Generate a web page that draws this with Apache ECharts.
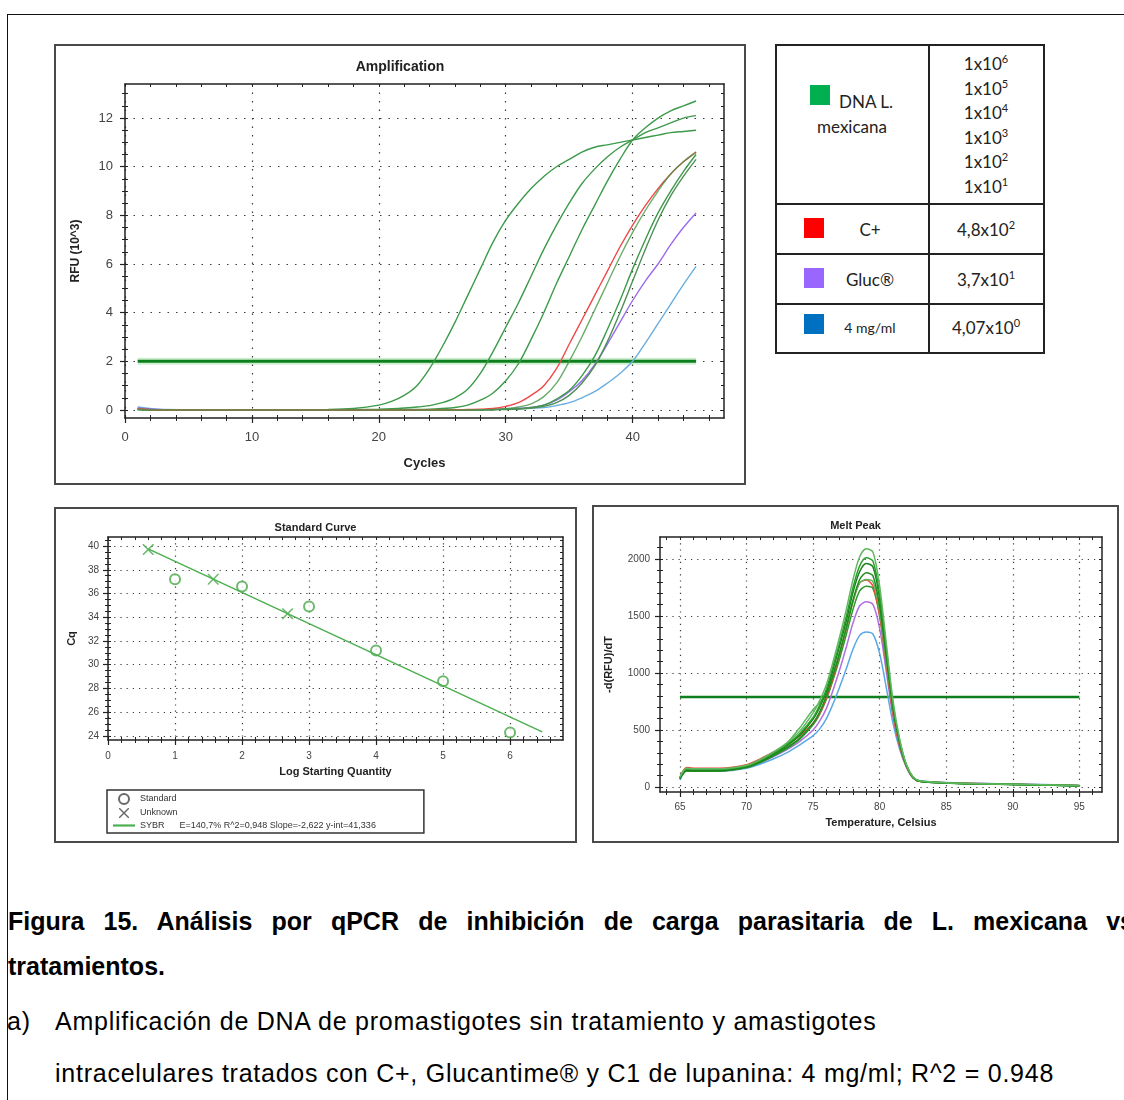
<!DOCTYPE html>
<html>
<head>
<meta charset="utf-8">
<script src="https://cdn.jsdelivr.net/npm/echarts@6.0.0/dist/echarts.min.js"></script>
<style>
body{margin:0;width:1124px;height:1100px;overflow:hidden;background:#fff;position:relative;font-family:"Liberation Sans",Arial,sans-serif;}
.frame{position:absolute;left:7px;top:14px;width:1140px;height:1100px;border-left:1.5px solid #111;border-top:1.5px solid #111;}
.box{position:absolute;border:2px solid #4a4a4a;box-sizing:border-box;}
.chart{position:absolute;}
#amp{left:54px;top:44px;width:692px;height:441px;}
#std{left:54px;top:507px;width:523px;height:336px;}
#melt{left:592px;top:505px;width:527px;height:338px;}
#tbl{position:absolute;left:775px;top:44px;width:270px;height:310px;border:2px solid #222;box-sizing:border-box;font-family:Lato,"Open Sans",sans-serif;color:#222;}
#tbl .vl{position:absolute;left:151px;top:0;width:2px;height:100%;background:#222;}
#tbl .hl{position:absolute;left:0;width:100%;height:2px;background:#222;}
#tbl .sq{position:absolute;width:20px;height:20px;}
#tbl .t{position:absolute;transform:translate(-50%,-50%);white-space:nowrap;font-size:17px;}
#tbl sup{font-size:11px;vertical-align:7px;line-height:0;}
.cap1{position:absolute;left:8px;top:899px;width:1126px;font-weight:bold;font-size:25px;line-height:45px;text-align:justify;color:#000;}
.cap{position:absolute;font-size:25px;line-height:40px;letter-spacing:0.75px;color:#000;white-space:nowrap;}
</style>
</head>
<body>
<div class="frame"></div>

<div class="box" style="left:54px;top:44px;width:692px;height:441px;"></div>
<div class="box" style="left:54px;top:507px;width:523px;height:336px;"></div>
<div class="box" style="left:592px;top:505px;width:527px;height:338px;"></div>

<div id="amp" class="chart"></div>
<div id="std" class="chart"></div>
<div id="melt" class="chart"></div>

<div id="tbl">
  <div class="vl"></div>
  <div class="hl" style="top:157px"></div>
  <div class="hl" style="top:207px"></div>
  <div class="hl" style="top:257px"></div>
  <div class="sq" style="left:33px;top:39px;background:#00b050;"></div>
  <div class="t" style="left:89px;top:55px;">DNA L.</div>
  <div class="t" style="left:75px;top:80px;">mexicana</div>
  <div class="sq" style="left:27px;top:172px;background:#ff0000;"></div>
  <div class="t" style="left:93px;top:183px;">C+</div>
  <div class="sq" style="left:27px;top:222px;background:#9966ff;"></div>
  <div class="t" style="left:93px;top:233px;">Gluc®</div>
  <div class="sq" style="left:27px;top:268px;background:#0070c0;"></div>
  <div class="t" style="left:93px;top:281px;font-size:14px;">4 mg/ml</div>
  <div class="t" style="left:209px;top:17px;">1x10<sup>6</sup></div>
  <div class="t" style="left:209px;top:42px;">1x10<sup>5</sup></div>
  <div class="t" style="left:209px;top:66px;">1x10<sup>4</sup></div>
  <div class="t" style="left:209px;top:91px;">1x10<sup>3</sup></div>
  <div class="t" style="left:209px;top:115px;">1x10<sup>2</sup></div>
  <div class="t" style="left:209px;top:140px;">1x10<sup>1</sup></div>
  <div class="t" style="left:209px;top:183px;">4,8x10<sup>2</sup></div>
  <div class="t" style="left:209px;top:233px;">3,7x10<sup>1</sup></div>
  <div class="t" style="left:209px;top:281px;">4,07x10<sup>0</sup></div>
</div>

<div class="cap1">Figura 15. Análisis por qPCR de inhibición de carga parasitaria de L. mexicana vs tratamientos.</div>
<div class="cap" style="left:7px;top:1001px;">a)</div>
<div class="cap" style="left:55px;top:1001px;">Amplificación de DNA de promastigotes sin tratamiento y amastigotes</div>
<div class="cap" style="left:55px;top:1053px;">intracelulares tratados con C+, Glucantime® y C1 de lupanina: 4 mg/ml; R^2 = 0.948</div>

<script>
// ---- datos: amplificación (RFU x10^3 por ciclo) ----
const cycles = [1,3,10,16,18,20,21,22,23,24,25,26,27,28,29,30,31,32,33,34,35,36,37,38,39,40,41,42,43,44,45];
const amp1e6 = [0.05,0,0,0.02,0.06,0.2,0.35,0.6,1.0,1.7,2.6,3.6,4.7,5.8,6.9,7.8,8.5,9.1,9.6,10.0,10.3,10.6,10.8,10.9,11.0,11.1,11.2,11.3,11.4,11.45,11.5];
const amp1e5 = [0.03,0,0,0,0.01,0.03,0.05,0.08,0.12,0.18,0.3,0.5,0.85,1.5,2.4,3.4,4.4,5.5,6.6,7.6,8.5,9.3,9.9,10.4,10.8,11.1,11.4,11.6,11.8,12.0,12.1];
const amp1e4 = [0.02,0,0,0,0,0.01,0.01,0.02,0.02,0.03,0.06,0.1,0.2,0.4,0.7,1.2,1.9,2.9,4.0,5.2,6.3,7.4,8.4,9.4,10.3,11.1,11.6,12.0,12.3,12.5,12.7];
const amp1e3 = [0.03,0,0,0,0,0,0,0,0,0,0,0,0.01,0.01,0.02,0.05,0.12,0.25,0.55,1.1,2.0,3.0,4.1,5.2,6.3,7.3,8.2,9.0,9.7,10.2,10.6];
const amp1e2 = [0.02,0,0,0,0,0,0,0,0,0,0,0,0,0.01,0.02,0.03,0.05,0.1,0.2,0.45,0.8,1.4,2.2,3.3,4.5,5.8,7.0,8.1,9.0,9.8,10.5];
const amp1e1 = [0.02,0,0,0,0,0,0,0,0,0,0,0,0,0,0.01,0.02,0.04,0.08,0.15,0.3,0.6,1.1,1.8,2.8,4.0,5.3,6.6,7.8,8.8,9.6,10.3];
const ampCpos = [0.05,0,0,0,0,0,0,0,0,0.01,0.01,0.01,0.02,0.03,0.06,0.15,0.3,0.6,1.0,1.7,2.7,3.7,4.7,5.7,6.7,7.6,8.4,9.1,9.7,10.2,10.6];
const ampGluc = [0.08,0.01,0,0,0,0,0,0,0,0,0,0,0,0.01,0.02,0.04,0.07,0.1,0.2,0.4,0.75,1.2,1.85,2.7,3.6,4.5,5.3,6.0,6.8,7.5,8.1];
const amp4mg = [0.12,0.02,0,0,0,0,0,0,0,0,0,0,0,0.01,0.02,0.03,0.05,0.07,0.1,0.18,0.3,0.5,0.75,1.1,1.5,2.0,2.75,3.55,4.35,5.15,5.9];
const ampThrCycles = [1, 45];
const ampThr = [2, 2];
const ampXTicks = [0,10,20,30,40];
const ampXMinor = [2,4,6,8,12,14,16,18,22,24,26,28,32,34,36,38,42,44,46];
const ampYTicks = [0,2,4,6,8,10,12];
const ampYMinor = [0.5,1,1.5,2.5,3,3.5,4.5,5,5.5,6.5,7,7.5,8.5,9,9.5,10.5,11,11.5,12.5,13];

// ---- datos: curva estándar ----
const stdLog = [1,2,3,4,5,6];
const stdCq = [37.2,36.6,34.9,31.2,28.6,24.3];
const unkLog = [0.6,1.57,2.68];
const unkCq = [39.7,37.2,34.3];
const fitLog = [0.6,6.48];
const fitCq = [39.76,24.35];
const fitText = 'E=140,7% R^2=0,948 Slope=-2,622 y-int=41,336';
const stdXTicks = [0,1,2,3,4,5,6];
const stdXMinor = [0.2,0.4,0.6,0.8,1.2,1.4,1.6,1.8,2.2,2.4,2.6,2.8,3.2,3.4,3.6,3.8,4.2,4.4,4.6,4.8,5.2,5.4,5.6,5.8,6.2,6.4,6.6];
const stdYTicks = [24,26,28,30,32,34,36,38,40];
const stdYMinor = [24.5,25,25.5,26.5,27,27.5,28.5,29,29.5,30.5,31,31.5,32.5,33,33.5,34.5,35,35.5,36.5,37,37.5,38.5,39,39.5,40.5];

// ---- datos: melt peak ----
const temps = [65,65.5,66,68,70,71,72,73,74,75,75.5,76,76.5,77,77.5,78,78.5,79,79.5,80,80.5,81,81.5,82,82.5,83,85,90,95];
const meltA = [90,165,160,160,190,240,305,385,490,650,760,900,1100,1320,1560,1820,2020,2090,2060,1760,1260,760,420,200,90,55,38,24,12];
const meltB = [80,160,155,155,185,230,295,370,470,610,720,860,1060,1270,1500,1750,1940,2010,1980,1690,1210,730,410,195,88,52,36,23,11];
const meltC = [75,150,148,148,180,225,288,360,455,595,700,840,1030,1240,1460,1710,1890,1960,1930,1650,1180,710,400,192,86,51,36,22,10];
const meltD = [70,140,138,140,172,218,278,345,430,560,660,800,980,1180,1400,1640,1820,1880,1850,1580,1140,690,385,188,84,50,35,22,10];
const meltE = [75,145,140,140,170,212,270,335,420,545,640,770,940,1130,1340,1560,1720,1760,1740,1500,1080,660,370,185,83,50,35,22,10];
const meltF = [80,155,150,150,178,225,290,380,520,680,740,830,990,1180,1400,1630,1790,1820,1800,1540,1110,680,380,186,84,50,36,22,10];
const meltCpos = [85,170,165,165,195,245,305,370,450,560,650,780,960,1170,1390,1630,1790,1815,1760,1500,1080,640,360,180,80,50,38,25,12];
const meltGluc = [70,150,148,148,175,215,265,325,400,500,580,690,850,1030,1230,1440,1590,1625,1600,1390,1010,620,350,180,80,50,36,23,11];
const melt4mg = [65,145,140,140,165,200,245,300,370,450,510,600,730,880,1040,1210,1330,1360,1340,1170,870,560,330,175,80,55,40,28,15];
const meltThrT = [65, 95];
const meltThr = [790, 790];
const meltXTicks = [65,70,75,80,85,90,95];
const meltXMinor = [64,66,67,68,69,71,72,73,74,76,77,78,79,81,82,83,84,86,87,88,89,91,92,93,94,96];
const meltYTicks = [0,500,1000,1500,2000];
const meltYMinor = [100,200,300,400,600,700,800,900,1100,1200,1300,1400,1600,1700,1800,1900,2100];

const FONT = '"Liberation Sans", Arial, sans-serif';

// ejes con marco: eje principal, ticks menores, ticks interiores y eje opuesto
function axes(dim, min, max, major, minor, o) {
  const near = dim === 'x' ? 'bottom' : 'left';
  const far = dim === 'x' ? 'top' : 'right';
  const line = {show: true, onZero: false, lineStyle: {color: '#222', width: 1.5}};
  const bare = {type: 'value', min: min, max: max, axisLabel: {show: false}, splitLine: {show: false}};
  return [
    {
      type: 'value', min: min, max: max, position: near,
      name: o.name, nameLocation: 'middle', nameGap: o.nameGap,
      nameTextStyle: {color: '#222', fontWeight: 'bold', fontSize: o.nameSize, fontFamily: FONT},
      axisLine: line,
      axisTick: {show: true, customValues: major, length: 5, lineStyle: {color: '#222', width: 1.2}},
      axisLabel: {show: true, customValues: major, color: '#444', fontSize: o.labelSize, margin: o.margin,
        fontFamily: FONT, formatter: v => String(v)},
      splitLine: {show: true, lineStyle: {color: '#3a3a3a', width: 1.2, type: o.dash}}
    },
    Object.assign({}, bare, {position: near, axisLine: {show: false, onZero: false},
      axisTick: {show: true, customValues: minor, length: 3, lineStyle: {color: '#222'}}}),
    Object.assign({}, bare, {position: near, axisLine: {show: false, onZero: false},
      axisTick: {show: true, inside: true, customValues: major.concat(minor), length: 3, lineStyle: {color: '#222'}}}),
    Object.assign({}, bare, {position: far, axisLine: line,
      axisTick: {show: true, inside: true, customValues: major.concat(minor), length: 3, lineStyle: {color: '#222'}}})
  ];
}

function pairs(xs, ys) {
  return xs.map((x, i) => [x, ys[i]]);
}

function title(text, top, size) {
  return {text: text, left: 'center', top: top,
    textStyle: {fontSize: size, fontWeight: 'bold', color: '#222', fontFamily: FONT}};
}

// ---- Amplification ----
const ampChart = echarts.init(document.getElementById('amp'));
const ampLines = [
  {v: amp1e6, c: '#3d9a4a'}, {v: amp1e5, c: '#3d9a4a'}, {v: amp1e4, c: '#3d9a4a'},
  {v: amp4mg, c: '#6aaee0'}, {v: ampGluc, c: '#9a6cf0'},
  {v: amp1e2, c: '#3d9a4a'}, {v: amp1e1, c: '#4f8f55'},
  {v: ampCpos, c: '#f04848'}, {v: amp1e3, c: 'rgba(70,150,70,0.8)'}
];
ampChart.setOption({
  animation: false,
  title: title('Amplification', 11, 14),
  grid: {left: 71, right: 22, top: 40, bottom: 67, outerBoundsMode: 'none'},
  xAxis: axes('x', 0, 47.2, ampXTicks, ampXMinor,
    {name: 'Cycles', nameGap: 39, nameSize: 13, labelSize: 13, margin: 13, dash: [1.5, 7]}),
  yAxis: axes('y', -0.33, 13.4, ampYTicks, ampYMinor,
    {name: 'RFU (10^3)', nameGap: 43, nameSize: 12, labelSize: 13, margin: 12, dash: [1.5, 7]}),
  series: [
    {type: 'line', data: pairs(ampThrCycles, ampThr), symbol: 'none', silent: true,
     lineStyle: {color: 'rgba(120,210,120,0.35)', width: 7}},
    {type: 'line', data: pairs(ampThrCycles, ampThr), symbol: 'none', silent: true,
     lineStyle: {color: '#0e7f1e', width: 3}}
  ].concat(ampLines.map(l => ({
    type: 'line', data: pairs(cycles, l.v), symbol: 'none', smooth: 0.35,
    lineStyle: {color: l.c, width: 1.4}
  })))
});

// ---- Standard Curve ----
const xPath = 'path://M0,0 L2,0 L10,8 L18,0 L20,0 L20,2 L12,10 L20,18 L20,20 L18,20 L10,12 L2,20 L0,20 L0,18 L8,10 L0,2 Z';
const linePath = 'path://M0,8 L40,8 L40,12 L0,12 Z';
const stdChart = echarts.init(document.getElementById('std'));
stdChart.setOption({
  animation: false,
  title: title('Standard Curve', 10, 11),
  grid: {left: 54, right: 14, top: 30, bottom: 103, outerBoundsMode: 'none'},
  xAxis: axes('x', 0, 6.79, stdXTicks, stdXMinor,
    {name: 'Log Starting Quantity', nameGap: 26, nameSize: 11, labelSize: 10, margin: 11, dash: [1.2, 5]}),
  yAxis: axes('y', 23.66, 40.76, stdYTicks, stdYMinor,
    {name: 'Cq', nameGap: 30, nameSize: 11, labelSize: 10, margin: 9, dash: [1.2, 5]}),
  legend: {
    orient: 'vertical', left: 53, top: 283, itemGap: 3, itemWidth: 22, itemHeight: 10,
    padding: [3, 48, 3, 6], borderColor: '#333', borderWidth: 1.5,
    textStyle: {fontSize: 9, color: '#333', fontFamily: FONT},
    formatter: name => name === 'SYBR' ? 'SYBR      ' + fitText : name,
    data: [
      {name: 'Standard', icon: 'emptyCircle', itemStyle: {color: '#444', borderColor: '#444', borderWidth: 1.2}},
      {name: 'Unknown', icon: xPath, itemStyle: {color: '#444'}},
      {name: 'SYBR', icon: linePath, itemStyle: {color: '#4caf50'}}
    ]
  },
  series: [
    {name: 'SYBR', type: 'line', data: pairs(fitLog, fitCq), symbol: 'none',
     lineStyle: {color: '#4caf50', width: 1.5}, itemStyle: {color: '#4caf50'}},
    {name: 'Standard', type: 'scatter', data: pairs(stdLog, stdCq), symbol: 'emptyCircle', symbolSize: 10,
     itemStyle: {color: '#4aa84a', borderWidth: 1.5}},
    {name: 'Unknown', type: 'scatter', data: pairs(unkLog, unkCq), symbol: xPath, symbolSize: 11,
     itemStyle: {color: '#4aa84a'}}
  ]
});

// ---- Melt Peak ----
const meltChart = echarts.init(document.getElementById('melt'));
const meltLines = [
  {v: melt4mg, c: '#5aa8e6'}, {v: meltGluc, c: '#b070e0'},
  {v: meltE, c: '#2c9a2c'}, {v: meltCpos, c: '#f04a3a'}, {v: meltF, c: '#5cb85c'},
  {v: meltD, c: '#1f8a1f'}, {v: meltC, c: '#178017'}, {v: meltB, c: '#2ca02c'}, {v: meltA, c: '#62b862'}
];
meltChart.setOption({
  animation: false,
  title: title('Melt Peak', 10, 11),
  grid: {left: 68, right: 17, top: 32, bottom: 51, outerBoundsMode: 'none'},
  xAxis: axes('x', 63.5, 96.7, meltXTicks, meltXMinor,
    {name: 'Temperature, Celsius', nameGap: 25, nameSize: 11, labelSize: 10, margin: 10, dash: [1.2, 5]}),
  yAxis: axes('y', -44, 2193, meltYTicks, meltYMinor,
    {name: '-d(RFU)/dT', nameGap: 46, nameSize: 11, labelSize: 10, margin: 10, dash: [1.2, 5]}),
  series: [
    {type: 'line', data: pairs(meltThrT, meltThr), symbol: 'none', silent: true,
     lineStyle: {color: '#0e7f1e', width: 2.5}}
  ].concat(meltLines.map(l => ({
    type: 'line', data: pairs(temps, l.v), symbol: 'none', smooth: 0.3,
    lineStyle: {color: l.c, width: 1.5}
  })))
});
</script>
</body>
</html>
